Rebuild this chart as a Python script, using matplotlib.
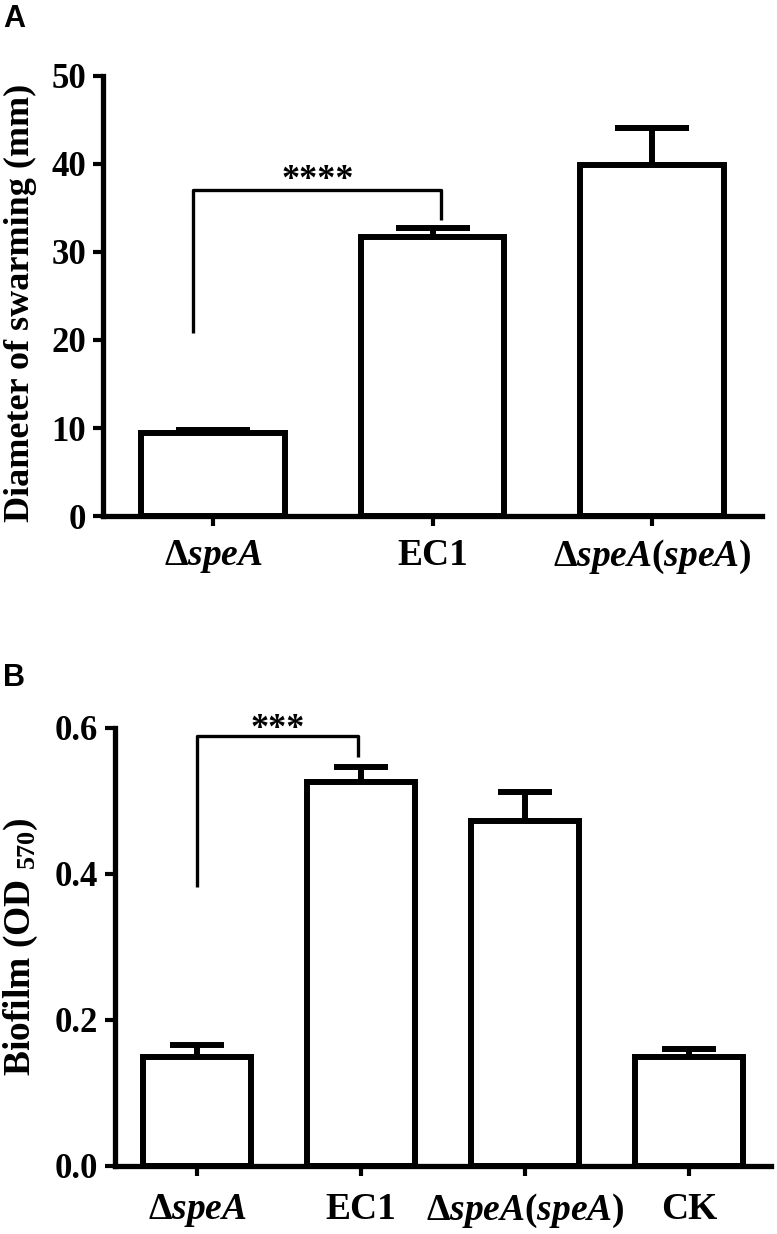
import matplotlib
matplotlib.use("Agg")
import matplotlib.pyplot as plt
import numpy as np

plt.rcParams['font.family'] = ['Liberation Serif', 'DejaVu Serif']
plt.rcParams['font.weight'] = 'bold'
plt.rcParams['mathtext.fontset'] = 'custom'
plt.rcParams['mathtext.rm'] = 'Liberation Serif:bold'
plt.rcParams['mathtext.bf'] = 'Liberation Serif:bold'
plt.rcParams['mathtext.it'] = 'Liberation Serif:italic:bold'

# ---------------- data ----------------
cats_a = [r'$\Delta\mathit{speA}$', 'EC1', r'$\Delta\mathit{speA}(\mathit{speA})$']
vals_a = [9.4, 31.7, 39.9]
errs_a = [0.4, 1.0, 4.2]
yticks_a = [0, 10, 20, 30, 40, 50]
brk_a_x = [-0.09, 1.04]
brk_a_y = [20.8, 37.0, 33.6]   # left-leg bottom, top, right-leg bottom
sig_a = '****'

cats_b = [r'$\Delta\mathit{speA}$', 'EC1', r'$\Delta\mathit{speA}(\mathit{speA})$', 'CK']
vals_b = [0.150, 0.526, 0.472, 0.149]
errs_b = [0.016, 0.021, 0.040, 0.011]
yticks_b = [0.0, 0.2, 0.4, 0.6]
brk_b_x = [0.0, 0.98]
brk_b_y = [0.382, 0.589, 0.560]
sig_b = '***'

W, H = 777, 1234
fig = plt.figure(figsize=(W / 100, H / 100), dpi=100)

def px_axes(left, right, top, bottom):
    return fig.add_axes([left / W, 1 - bottom / H, (right - left) / W, (bottom - top) / H])

axA = px_axes(103.25, 761.75, 76, 516)
axB = px_axes(115, 771, 728, 1166)

def style(ax, cats, vals, errs, yticks, ylim, capsize, ylabel, lp, tickfmt, xpad, ylsize):
    x = np.arange(len(cats))
    ax.errorbar(x, vals, yerr=[np.zeros(len(vals)), errs], fmt='none', ecolor='black',
                elinewidth=4.3, capsize=capsize, capthick=4.3, zorder=2)
    ax.bar(x, vals, width=0.655, color='white', edgecolor='black', linewidth=4.3, zorder=3)
    ax.set_xlim(-0.5, len(cats) - 0.5)
    ax.set_ylim(*ylim)
    ax.set_yticks(yticks)
    ax.set_yticklabels([tickfmt(v) for v in yticks])
    ax.set_xticks(x)
    ax.set_xticklabels(cats)
    for s in ['top', 'right']:
        ax.spines[s].set_visible(False)
    for s in ['left', 'bottom']:
        ax.spines[s].set_linewidth(3.8)
        ax.spines[s].set_capstyle('projecting')
    ax.tick_params(axis='both', direction='out', length=7.5, width=3.0)
    ax.tick_params(axis='y', pad=5, labelsize=25)
    ax.tick_params(axis='x', pad=xpad, labelsize=27)
    for lab in ax.get_xticklabels() + ax.get_yticklabels():
        lab.set_fontweight('bold')
    ax.set_ylabel(ylabel, fontsize=ylsize, fontweight='bold', labelpad=lp)

style(axA, cats_a, vals_a, errs_a, yticks_a, (0, 50), 26.3,
      'Diameter of swarming (mm)', 11, lambda v: f'{v:d}', 8, 26)
style(axB, cats_b, vals_b, errs_b, yticks_b, (0, 0.6), 19.4,
      r'Biofilm (OD $_{570}$)', 10, lambda v: f'{v:.1f}', 11, 27)
axA.yaxis.set_label_coords(-0.101, 0.485)

def bracket(ax, bx, by, label, lw=2.4, star_off=0.0):
    ax.plot([bx[0], bx[0], bx[1], bx[1]], [by[0], by[1], by[1], by[2]],
            color='black', lw=lw, solid_capstyle='butt', zorder=4, clip_on=False)
    ax.text((bx[0] + bx[1]) / 2, by[1] + star_off, label, ha='center', va='bottom',
            fontsize=26, fontweight='bold')

bracket(axA, brk_a_x, brk_a_y, sig_a, star_off=-0.7)
bracket(axB, brk_b_x, brk_b_y, sig_b, star_off=-0.013)

fig.text(3 / W, 1 - 27 / H, 'A', fontsize=22, fontweight='bold', family='Liberation Sans')
fig.text(3 / W, 1 - 686 / H, 'B', fontsize=22, fontweight='bold', family='Liberation Sans')

fig.savefig('out.png', dpi=100)
